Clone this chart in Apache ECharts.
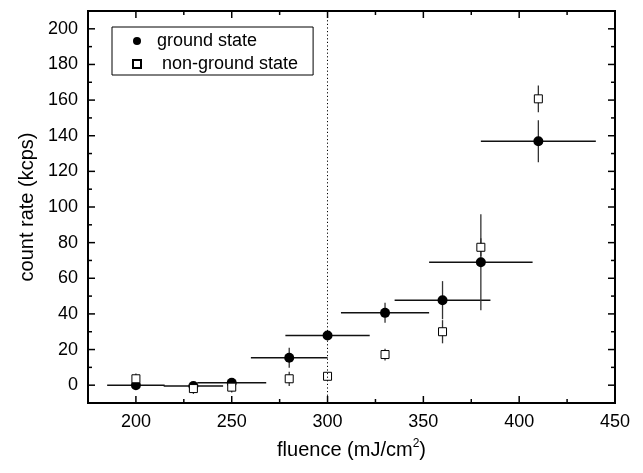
<!DOCTYPE html>
<html>
<head>
<meta charset="utf-8">
<script src="https://cdn.jsdelivr.net/npm/echarts@6/dist/echarts.min.js"></script>
<style>
html,body{margin:0;padding:0;background:#fff;}
#chart{width:643px;height:473px;}
</style>
</head>
<body>
<div id="chart"></div>
<script>
// ---- data ----
const fluence       = [200, 230, 250, 280, 300, 330, 360, 380, 410];
const fluenceErr    = [15, 15.5, 18, 20, 22, 23, 25, 27, 30];
const groundRate    = [0, -0.5, 1.3, 15.4, 27.9, 40.6, 47.7, 69, 136.9];
const groundErr     = [1.5, 1.5, 1.5, 5.6, 2, 5.6, 10.7, 27, 11.8];
const nonGroundRate = [3.6, -1.9, -1.1, 3.6, 5.0, 17.2, 30, 77.4, 160.7];
const nonGroundErr  = [3, 3, 3, 4, 2, 3.3, 6.5, 5, 7.5];
const thresholdFluence = 300;

const xMajorTicks = [200, 250, 300, 350, 400, 450];
const xMinorTicks = [225, 275, 325, 375, 425];
const yMajorTicks = [0, 20, 40, 60, 80, 100, 120, 140, 160, 180, 200];
const yMinorTicks = [10, 30, 50, 70, 90, 110, 130, 150, 170, 190];

const seriesNames = ['ground state', ' non-ground state'];

// ---- build ----
const FONT = "'Liberation Sans', Arial, Helvetica, sans-serif";
const XMIN = 175, XMAX = 450, YMIN = -10, YMAX = 210;
const MAJOR_LEN = 7, MINOR_LEN = 4;

const groundPts = fluence.map((f, i) => [f, groundRate[i]]);
const nonGroundPts = fluence.map((f, i) => [f, nonGroundRate[i]]);
const groundErrData = fluence.map((f, i) => [f, groundRate[i], fluenceErr[i], groundErr[i]]);
const nonGroundErrData = fluence.map((f, i) => [f, nonGroundRate[i], 0, nonGroundErr[i]]);

// tick marks (inward, mirrored on all four sides), positioned through the axes' scales
const tickData = []
  .concat(xMajorTicks.map(v => [v, YMIN, 0, MAJOR_LEN]))
  .concat(xMinorTicks.map(v => [v, YMIN, 0, MINOR_LEN]))
  .concat(yMajorTicks.map(v => [XMIN, v, 1, MAJOR_LEN]))
  .concat(yMinorTicks.map(v => [XMIN, v, 1, MINOR_LEN]));

function tickRender(params, api) {
  const cs = params.coordSys;
  const kind = api.value(2), len = api.value(3);
  const p = api.coord([api.value(0), api.value(1)]);
  const st = {stroke: '#000', lineWidth: 1.5};
  if (kind === 0) {
    const x = p[0], yb = cs.y + cs.height, yt = cs.y;
    return {type: 'group', children: [
      {type: 'line', shape: {x1: x, y1: yb, x2: x, y2: yb - len}, style: st},
      {type: 'line', shape: {x1: x, y1: yt, x2: x, y2: yt + len}, style: st}
    ]};
  }
  const y = p[1], xl = cs.x, xr = cs.x + cs.width;
  return {type: 'group', children: [
    {type: 'line', shape: {x1: xl, y1: y, x2: xl + len, y2: y}, style: st},
    {type: 'line', shape: {x1: xr, y1: y, x2: xr - len, y2: y}, style: st}
  ]};
}

function errRender(params, api) {
  const x = api.value(0), y = api.value(1), xe = api.value(2), ye = api.value(3);
  const children = [];
  const c = api.coord([x, y - ye]), d = api.coord([x, y + ye]);
  children.push({type: 'line', shape: {x1: c[0], y1: c[1], x2: d[0], y2: d[1]},
    style: {stroke: '#333', lineWidth: 1.3}});
  if (xe) {
    const a = api.coord([x - xe, y]), b = api.coord([x + xe, y]);
    children.push({type: 'line', shape: {x1: a[0], y1: a[1], x2: b[0], y2: b[1]},
      style: {stroke: '#111', lineWidth: 1.5}});
  }
  return {type: 'group', children};
}

const option = {
  animation: false,
  backgroundColor: '#fff',
  grid: {left: 88, right: 28, top: 11, bottom: 70, show: true, borderColor: '#000', borderWidth: 2},
  xAxis: {
    type: 'value', position: 'bottom', min: XMIN, max: XMAX, interval: 25,
    axisLine: {show: true, onZero: false, lineStyle: {color: '#000', width: 2}},
    axisTick: {show: false},
    axisLabel: {show: true, customValues: xMajorTicks, fontSize: 18, color: '#000', fontFamily: FONT, margin: 10},
    splitLine: {show: false},
    name: 'fluence (mJ/cm{sup|2})',
    nameLocation: 'middle', nameGap: 35,
    nameTextStyle: {fontSize: 20, fontFamily: FONT, color: '#000', lineHeight: 24,
      rich: {sup: {fontSize: 12, fontFamily: FONT, color: '#000', verticalAlign: 'top', lineHeight: 24, padding: [0, 0, 8, 0]}}}
  },
  yAxis: {
    type: 'value', position: 'left', min: YMIN, max: YMAX, interval: 10,
    axisLine: {show: true, onZero: false, lineStyle: {color: '#000', width: 2}},
    axisTick: {show: false},
    axisLabel: {show: true, customValues: yMajorTicks, fontSize: 18, color: '#000', fontFamily: FONT, margin: 10},
    splitLine: {show: false},
    name: 'count rate (kcps)',
    nameLocation: 'middle', nameGap: 48,
    nameTextStyle: {fontSize: 20, fontFamily: FONT, color: '#000'}
  },
  legend: {
    show: true, orient: 'vertical', left: 112, top: 27,
    data: seriesNames,
    itemWidth: 8, itemHeight: 8, itemGap: 1,
    padding: [3, 15, 0, 20],
    borderColor: '#000', borderWidth: 1,
    textStyle: {fontSize: 18, fontFamily: FONT, color: '#000', lineHeight: 22, padding: [0, 0, 0, 11]},
    selectedMode: false
  },
  series: [
    {
      name: 'ticks', type: 'custom', renderItem: tickRender, data: tickData,
      encode: {x: 0, y: 1}, z: 5, silent: true, clip: false
    },
    {
      name: 'gErr', type: 'custom', renderItem: errRender, data: groundErrData,
      encode: {x: 0, y: 1}, z: 1, silent: true,
      markLine: {
        silent: true, symbol: 'none', label: {show: false},
        lineStyle: {color: '#000', type: [1.2, 2.4], width: 1},
        data: [{xAxis: thresholdFluence}]
      }
    },
    {
      name: 'ngErr', type: 'custom', renderItem: errRender, data: nonGroundErrData,
      encode: {x: 0, y: 1}, z: 1, silent: true
    },
    {
      name: seriesNames[0], type: 'scatter', data: groundPts,
      symbol: 'circle', symbolSize: 10, z: 3,
      itemStyle: {color: '#000', opacity: 1}
    },
    {
      name: seriesNames[1], type: 'scatter', data: nonGroundPts,
      symbol: 'rect', symbolSize: 8, z: 4,
      itemStyle: {color: '#fff', borderColor: '#000', borderWidth: 1, opacity: 1}
    }
  ]
};

const chart = echarts.init(document.getElementById('chart'), null, {renderer: 'canvas'});
chart.setOption(option);
</script>
</body>
</html>
